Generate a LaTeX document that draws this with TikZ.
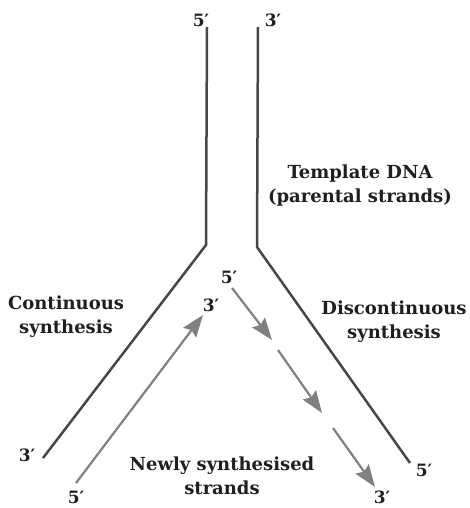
\documentclass[tikz,border=0pt]{standalone}
\usepackage{fontspec}
\setmainfont{DejaVu Serif}
\usetikzlibrary{arrows.meta}

\begin{document}
\begin{tikzpicture}[x=1pt,y=-1pt,
  parent/.style={draw=black!72,line width=2.5pt,line join=miter},
  newstrand/.style={draw=black!50,line width=2.2pt,-{Stealth[length=22pt,width=16pt,inset=3pt]}},
  lbl/.style={font=\fontsize{18}{24}\selectfont\bfseries,text=black!88,inner sep=0pt,align=center},
  endlbl/.style={font=\fontsize{17}{20}\selectfont\bfseries,text=black!88,inner sep=0pt}]
\useasboundingbox (0,0) rectangle (469,508);
% parental strands
\coordinate (ltop) at (207,27); \coordinate (lfork) at (206,245); \coordinate (lend) at (43,458);
\coordinate (rtop) at (258,27); \coordinate (rfork) at (257,247); \coordinate (rend) at (410,463);
\draw[parent] (ltop) -- (lfork) -- (lend);
\draw[parent] (rtop) -- (rfork) -- (rend);
% new strands
\coordinate (cs) at (76,483); \coordinate (ce) at (203,315);
\coordinate (d1s) at (232,288); \coordinate (d1e) at (272,340);
\coordinate (d2s) at (278,350); \coordinate (d2e) at (322,413);
\coordinate (d3s) at (333,428); \coordinate (d3e) at (375,487);
\draw[newstrand] (cs) -- (ce);
\draw[newstrand] (d1s) -- (d1e);
\draw[newstrand] (d2s) -- (d2e);
\draw[newstrand] (d3s) -- (d3e);
% ends
\node[endlbl] (t5) at (201,20) {5′}; \node[endlbl] (t3) at (273,20) {3′};
\node[endlbl] (m5) at (229,277) {5′}; \node[endlbl] (m3) at (211,305) {3′};
\node[endlbl] (l3) at (27,455) {3′}; \node[endlbl] (l5) at (76,497) {5′};
\node[endlbl] (r5) at (424,470) {5′}; \node[endlbl] (b3) at (382,497) {3′};
% texts
\node[lbl] (tmpl) at (360,186) {Template DNA\\(parental strands)};
\node[lbl] (cont) at (66,317) {Continuous\\synthesis};
\node[lbl] (disc) at (394,322) {Discontinuous\\synthesis};
\node[lbl] (newly) at (222,476) {Newly synthesised\\strands};
\end{tikzpicture}
\end{document}
